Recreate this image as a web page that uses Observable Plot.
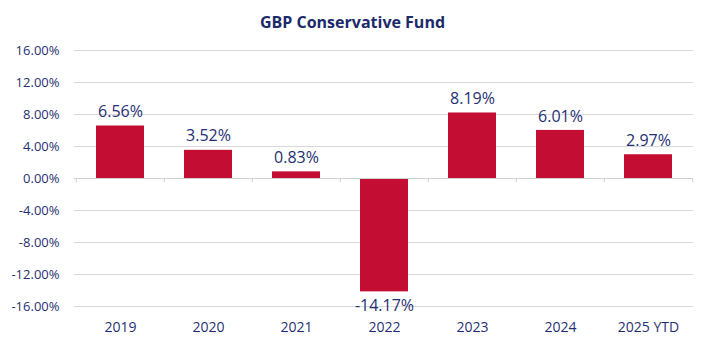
<!DOCTYPE html>
<html>
<head>
<meta charset="utf-8">
<script src="https://cdn.jsdelivr.net/npm/d3@7"></script>
<script src="https://cdn.jsdelivr.net/npm/@observablehq/plot@0.6"></script>
<style>
  html, body { margin: 0; padding: 0; background: #fff; }
  #title { height: 40px; line-height: 44px; text-align: center; font-family: "Open Sans", sans-serif; font-weight: bold; font-size: 16px; color: #1B2A6B; width: 705px; }
</style>
</head>
<body>
<div id="title">GBP Conservative Fund</div>
<div id="chart"></div>
<script>
const categories = ["2019", "2020", "2021", "2022", "2023", "2024", "2025 YTD"];
const returns = [6.56, 3.52, 0.83, -14.17, 8.19, 6.01, 2.97];
const yTicks = [16, 12, 8, 4, 0, -4, -8, -12, -16];

const data = categories.map((c, i) => ({ year: c, value: returns[i] }));
const navy = "#1F2F72";
const W = 705, ML = 74, MR = 12;
const halfBand = (W - ML - MR) / categories.length / 2;
const fmt = v => v.toFixed(2) + "%";

const chart = Plot.plot({
  width: W,
  height: 304,
  marginLeft: ML,
  marginRight: MR,
  marginTop: 10,
  marginBottom: 38,
  style: { fontFamily: "Open Sans, sans-serif", fontSize: "13px", color: navy, background: "#fff" },
  x: { domain: categories, paddingInner: 0.46, paddingOuter: 0.23, label: null, tickSize: 0, tickPadding: 14 },
  y: { domain: [-16, 16], ticks: yTicks, tickFormat: fmt, label: null, tickSize: 0, tickPadding: 15 },
  marks: [
    Plot.ruleY(yTicks, { stroke: "#d9d9d9", strokeWidth: 1 }),
    Plot.barY(data, { x: "year", y: "value", fill: "#C40D32" }),
    Plot.ruleY([0], { stroke: "#d0d0d0", strokeWidth: 1 }),
    Plot.ruleX(categories, { x: d => d, dx: -halfBand, y1: 0, y2: -0.55, stroke: "#d0d0d0" }),
    Plot.ruleX([categories[categories.length - 1]], { x: d => d, dx: halfBand, y1: 0, y2: -0.55, stroke: "#d0d0d0" }),
    Plot.axisX({ tickSize: 0, tickPadding: 16, fontSize: 14, label: null }),
    Plot.text(data, { x: "year", y: "value", text: d => fmt(d.value),
      fill: navy, fontSize: 16,
      filter: d => d.value >= 0, dy: -14 }),
    Plot.text(data, { x: "year", y: "value", text: d => fmt(d.value),
      fill: navy, fontSize: 16,
      filter: d => d.value < 0, dy: 14 })
  ]
});
document.getElementById("chart").appendChild(chart);
</script>
</body>
</html>
